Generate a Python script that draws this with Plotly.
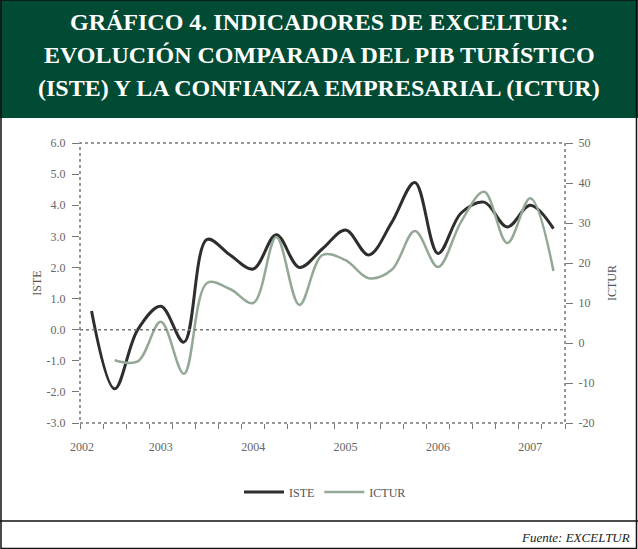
import plotly.graph_objects as go

# quarters, Q2 2002 .. Q2 2007 (21 categories)
quarters = list(range(21))
iste = [0.6, -1.9, 0.0, 0.75, -0.4, 2.9, 2.4, 1.95, 3.05, 2.0, 2.6, 3.2, 2.4,
        3.45, 4.73, 2.45, 3.75, 4.1, 3.3, 4.0, 3.25]
ictur_q = list(range(1, 21))
ictur = [-4.3, -4.6, 5.3, -7.7, 15.0, 13.5, 10.0, 26.5, 9.5, 22.0, 20.7, 16.2,
         18.3, 28.0, 19.0, 30.3, 37.8, 25.0, 36.2, 18.0]

year_pos = [-0.41, 3, 7, 11, 15, 19]
year_lbl = ["2002", "2003", "2004", "2005", "2006", "2007"]
left_vals = [-3, -2, -1, 0, 1, 2, 3, 4, 5, 6]
left_txt = ["-3.0", "-2.0", "-1.0", "0.0", "1.0", "2.0", "3.0", "4.0", "5.0", "6.0"]
right_vals = [-20, -10, 0, 10, 20, 30, 40, 50]
right_txt = ["-20", "-10", "0", "10", "20", "30", "40", "50"]

W, H = 638, 549
ml, mr, mt, mb = 80, 73, 143, 126
pw, ph = W - ml - mr, H - mt - mb


def px(x):
    return (x - ml) / pw


def py(y):
    return (H - mb - y) / ph


tickfont = dict(family="Liberation Serif", size=12, color="#666")

fig = go.Figure()
fig.add_trace(go.Scatter(x=quarters, y=iste, name="ISTE", mode="lines",
                         line=dict(color="#2e2e2e", width=3, shape="spline", smoothing=1)))
fig.add_trace(go.Scatter(x=ictur_q, y=ictur, name="ICTUR", mode="lines", yaxis="y2",
                         line=dict(color="#93a996", width=2.5, shape="spline", smoothing=1)))

fig.update_layout(
    width=W, height=H,
    margin=dict(l=ml, r=mr, t=mt, b=mb),
    paper_bgcolor="white", plot_bgcolor="white",
    showlegend=True,
    legend=dict(orientation="h", x=px(325), xanchor="center", y=py(492), yanchor="middle",
                font=dict(family="Liberation Serif", size=12, color="#555"),
                itemwidth=40, tracegroupgap=0),
    xaxis=dict(range=[-0.5, 20.5], tickvals=year_pos, ticktext=year_lbl, ticks="",
               showgrid=False, zeroline=False, showline=False, tickfont=tickfont,
               ticklabelstandoff=15,
               minor=dict(tickvals=[k - 0.5 for k in range(22)], ticks="outside",
                          ticklen=5, tickcolor="#777", showgrid=False)),
    yaxis=dict(range=[-3, 6], tickvals=left_vals, ticktext=left_txt, ticks="outside",
               ticklen=7, tickcolor="#777", showgrid=False, zeroline=False, showline=False,
               tickfont=tickfont, ticklabelstandoff=4,
               title=dict(text="ISTE", font=dict(family="Liberation Serif", size=12, color="#555"),
                          standoff=2)),
    yaxis2=dict(range=[-20, 50], tickvals=right_vals, ticktext=right_txt, ticks="outside",
                ticklen=7, tickcolor="#777", overlaying="y", side="right", showgrid=False,
                zeroline=False, showline=False, tickfont=tickfont, ticklabelstandoff=3,
                title=dict(text="ICTUR", font=dict(family="Liberation Serif", size=12, color="#555"),
                           standoff=14)),
)

shapes = [
    # title band
    dict(type="rect", xref="paper", yref="paper", x0=px(0), x1=px(W), y0=py(118), y1=py(0),
         fillcolor="#014a33", line=dict(width=0), layer="below"),
    # outer border
    dict(type="rect", xref="paper", yref="paper", x0=px(1), x1=px(W - 1.5), y0=py(H - 0.5), y1=py(0),
         line=dict(color="#111", width=1.5)),
    # footer divider
    dict(type="line", xref="paper", yref="paper", x0=px(0), x1=px(W), y0=py(521), y1=py(521),
         line=dict(color="#111", width=1.5)),
    # plot frame
    dict(type="rect", xref="paper", yref="paper", x0=0, x1=1, y0=0, y1=1,
         line=dict(color="#777", width=1.5, dash="dot")),
    # zero line
    dict(type="line", xref="paper", yref="y", x0=0, x1=1, y0=0, y1=0,
         line=dict(color="#777", width=1.5, dash="dot")),
]
fig.update_layout(shapes=shapes)

title_lines = ["GRÁFICO 4. INDICADORES DE EXCELTUR:",
               "EVOLUCIÓN COMPARADA DEL PIB TURÍSTICO",
               "(ISTE) Y LA CONFIANZA EMPRESARIAL (ICTUR)"]
for t, yy in zip(title_lines, [22, 55, 88]):
    fig.add_annotation(text="<b>" + t + "</b>", xref="paper", yref="paper", x=px(319), y=py(yy),
                       xanchor="center", yanchor="middle", showarrow=False,
                       font=dict(family="Liberation Serif", size=24, color="white"))

fig.add_annotation(text="<i>Fuente: EXCELTUR</i>", xref="paper", yref="paper", x=px(632), y=py(537),
                   xanchor="right", yanchor="middle", showarrow=False,
                   font=dict(family="Liberation Serif", size=13, color="#222"))

# no page margin so the figure sits at the window's top-left corner
fig.write_html("out.html", config={"displayModeBar": False},
               post_script="document.body.style.margin='0px';")
